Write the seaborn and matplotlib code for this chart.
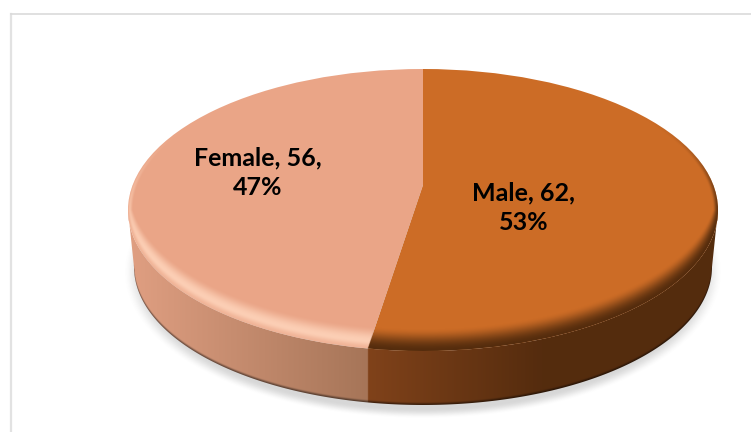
import numpy as np
import matplotlib
matplotlib.use("Agg")
import matplotlib.pyplot as plt
from matplotlib.path import Path
from matplotlib.patches import PathPatch, Ellipse
import seaborn as sns

labels = ["Male", "Female"]
values = [62, 56]
percents = [53, 47]
top_colors = ["#CC6C26", "#EAA587"]
side_left = ["#80421A", "#E09F82"]
side_right = ["#552C0E", "#A67558"]
label_font = "Lato"

W, H = 751, 432
CX, CY, RX, RY = 423.0, 210.0, 295.0, 141.0
# perspective: the pie's apex sits above the centre of the visible ellipse
APEX = 25.0 / RY
BOT_CY, BOT_RX, BOT_RY = -57.0 / RY, 289.0 / RX, 138.0 / RY

sns.set_theme(style="white")
sns.set_palette(top_colors)
fig = plt.figure(figsize=(W / 100, H / 100), dpi=100, facecolor="white")

frame = fig.add_axes([10.5 / W, 0, 1, 1 - 14 / H])
frame.set_xticks([]); frame.set_yticks([])
for s in ["right", "bottom"]:
    frame.spines[s].set_visible(False)
frame.spines["left"].set_color("#E2E2E2"); frame.spines["left"].set_linewidth(1.6)
frame.spines["top"].set_color("#DADADA"); frame.spines["top"].set_linewidth(1.2)

ax = fig.add_axes([0, 0, 1, 1])
ax.patch.set_alpha(0)
xlim = (-CX / RX, (W - CX) / RX)
ylim = ((CY - H) / RY, CY / RY)
ext = [xlim[0], xlim[1], ylim[0], ylim[1]]

xs = np.linspace(xlim[0], xlim[1], W * 2)
ys = np.linspace(ylim[1], ylim[0], H * 2)
X, Y = np.meshgrid(xs, ys)

def smooth(t):
    t = np.clip(t, 0, 1)
    return t * t * (3 - 2 * t)

# Soft shadow under the disc
rho = np.sqrt((X / (300 / RX)) ** 2 + ((Y + 62 / RY) / (147 / RY)) ** 2)
sh = np.zeros(X.shape + (4,))
sh[..., :3] = 0.35
sh[..., 3] = 0.24 * smooth((1.0 - rho) / 0.07)
ax.imshow(sh, extent=ext, aspect="auto", interpolation="bilinear", zorder=1)

# Where the slice boundary meets the rim
theta = 2 * np.pi * values[0] / sum(values)
ss, cc = np.sin(theta), np.cos(theta)
b = APEX * cc
s_hit = -b + np.sqrt(b * b - (APEX ** 2 - 1))
bx = s_hit * ss

# Side wall
cl = [np.array(matplotlib.colors.to_rgb(c)) for c in side_left]
cr = [np.array(matplotlib.colors.to_rgb(c)) for c in side_right]
male = X >= bx
t_m = np.clip((X - bx) / (0.4 - bx), 0, 1)
t_f = np.clip((X + 1) / (bx + 1), 0, 1)
img = np.zeros(X.shape + (3,))
for i in range(3):
    img[..., i] = np.where(male, cl[0][i] + (cr[0][i] - cl[0][i]) * t_m,
                           cl[1][i] + (cr[1][i] - cl[1][i]) * t_f)
yb = BOT_CY - BOT_RY * np.sqrt(np.clip(1 - (X / BOT_RX) ** 2, 0, 1))
edge = 1 - 0.5 * (1 - smooth((Y - yb) / (3 / RY)))
img *= edge[..., None]
a = np.linspace(np.pi, 2 * np.pi, 240)
verts = np.vstack([np.c_[BOT_RX * np.cos(a), BOT_CY + BOT_RY * np.sin(a)],
                   np.c_[np.cos(a[::-1]), np.sin(a[::-1])]])
wall = PathPatch(Path(np.vstack([verts, verts[:1]]), closed=True), transform=ax.transData,
                 facecolor="none", edgecolor="none")
ax.add_patch(wall)
im = ax.imshow(img, extent=ext, aspect="auto", interpolation="bilinear", zorder=3)
im.set_clip_path(wall)

# Top face: pie from the data, clipped to the visible ellipse
disc = Ellipse((0, 0), 2, 2, transform=ax.transData, facecolor="none", edgecolor="none")
ax.add_patch(disc)
wedges, _ = ax.pie(values, colors=top_colors, startangle=90, counterclock=False,
                   radius=1.6, center=(0, APEX), wedgeprops={"linewidth": 0, "zorder": 4})
for w in wedges:
    w.set_clip_on(True)
    w.set_clip_path(disc)

# Bevel around the rim, strongest toward the front
rho = np.sqrt(X ** 2 + Y ** 2)
inner = 1 - (24 / RY) * np.clip(-Y, 0, 1) - 5 / RX
band = np.clip((rho - inner) / (1 - inner + 1e-6), 0, 1)
front = smooth((0.65 - Y) / 1.0)

top_male = (np.arctan2(X, Y - APEX) % (2 * np.pi)) <= theta

hi = np.ones(X.shape + (4,))
hi[..., :3] = matplotlib.colors.to_rgb("#FFD6BE")
hi[..., 3] = 0.85 * smooth(band / 0.7) * (1 - 0.65 * smooth((band - 0.7) / 0.3)) * front * (~top_male)
him = ax.imshow(hi, extent=ext, aspect="auto", interpolation="bilinear", zorder=5)
him.set_clip_path(disc)

dk = np.ones(X.shape + (4,))
dk[..., :3] = matplotlib.colors.to_rgb(side_right[0])
dk[..., 3] = smooth(band) * smooth((0.7 - Y) / 0.9) * top_male
dim = ax.imshow(dk, extent=ext, aspect="auto", interpolation="bilinear", zorder=5)
dim.set_clip_path(disc)

# Data labels
label_pos = [(524, 208), (258, 173)]
for name, v, p, (lx, ly) in zip(labels, values, percents, label_pos):
    ax.text((lx - CX) / RX, (CY - ly) / RY, f"{name}, {v},\n{p}%", ha="center", va="center",
            fontsize=18, fontweight="bold", family=label_font, color="black",
            linespacing=1.33, zorder=6)

ax.set_xlim(xlim); ax.set_ylim(ylim)
ax.set_aspect("auto")
ax.axis("off")
fig.savefig("out.png", dpi=100, facecolor="white")
